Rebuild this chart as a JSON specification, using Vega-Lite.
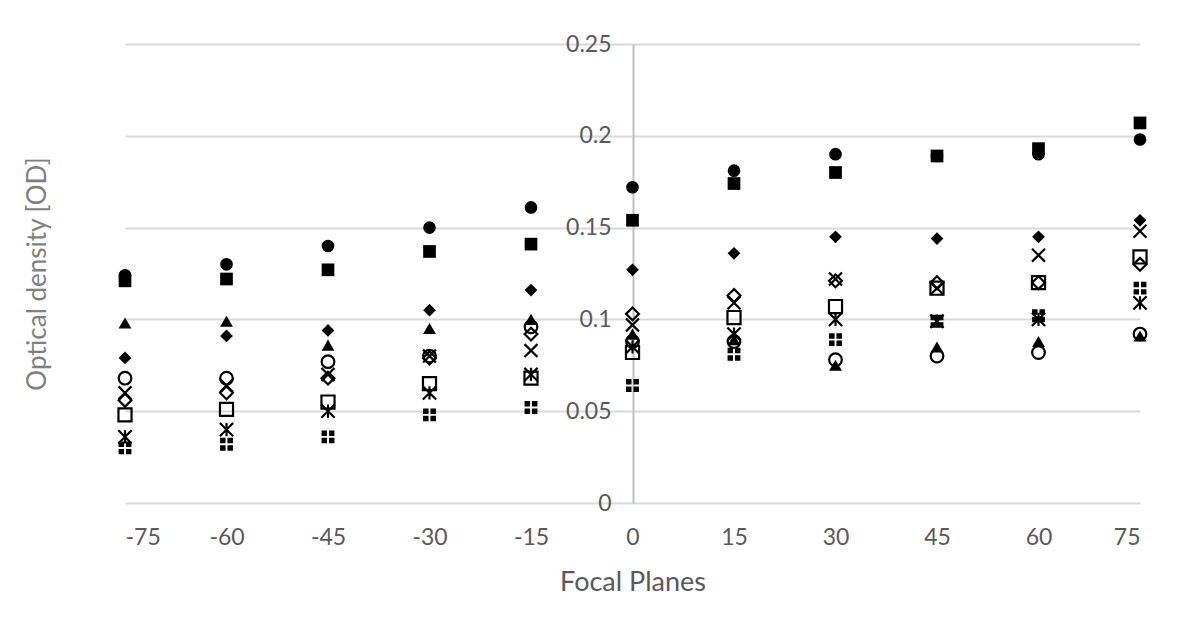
{
  "$schema": "https://vega.github.io/schema/vega-lite/v6.json",
  "width": 1015,
  "height": 459,
  "autosize": {"type": "none"},
  "padding": {"left": 125, "top": 44, "right": 38, "bottom": 117},
  "background": "white",
  "config": {"view": {"stroke": null}, "font": "Lato"},
  "data": {
    "values": [
      {"plane": -75, "series": "S1", "od": 0.124}, {"plane": -75, "series": "S2", "od": 0.121}, {"plane": -75, "series": "S3", "od": 0.079}, {"plane": -75, "series": "S4", "od": 0.098}, {"plane": -75, "series": "S5", "od": 0.068}, {"plane": -75, "series": "S6", "od": 0.056}, {"plane": -75, "series": "S7", "od": 0.060}, {"plane": -75, "series": "S8", "od": 0.048}, {"plane": -75, "series": "S9", "od": 0.036}, {"plane": -75, "series": "S10", "od": 0.030},
      {"plane": -60, "series": "S1", "od": 0.130}, {"plane": -60, "series": "S2", "od": 0.122}, {"plane": -60, "series": "S3", "od": 0.091}, {"plane": -60, "series": "S4", "od": 0.099}, {"plane": -60, "series": "S5", "od": 0.068}, {"plane": -60, "series": "S6", "od": 0.060}, {"plane": -60, "series": "S7", "od": 0.064}, {"plane": -60, "series": "S8", "od": 0.051}, {"plane": -60, "series": "S9", "od": 0.040}, {"plane": -60, "series": "S10", "od": 0.032},
      {"plane": -45, "series": "S1", "od": 0.140}, {"plane": -45, "series": "S2", "od": 0.127}, {"plane": -45, "series": "S3", "od": 0.094}, {"plane": -45, "series": "S4", "od": 0.086}, {"plane": -45, "series": "S5", "od": 0.077}, {"plane": -45, "series": "S6", "od": 0.068}, {"plane": -45, "series": "S7", "od": 0.070}, {"plane": -45, "series": "S8", "od": 0.055}, {"plane": -45, "series": "S9", "od": 0.050}, {"plane": -45, "series": "S10", "od": 0.036},
      {"plane": -30, "series": "S1", "od": 0.150}, {"plane": -30, "series": "S2", "od": 0.137}, {"plane": -30, "series": "S3", "od": 0.105}, {"plane": -30, "series": "S4", "od": 0.095}, {"plane": -30, "series": "S5", "od": 0.080}, {"plane": -30, "series": "S6", "od": 0.079}, {"plane": -30, "series": "S7", "od": 0.080}, {"plane": -30, "series": "S8", "od": 0.065}, {"plane": -30, "series": "S9", "od": 0.060}, {"plane": -30, "series": "S10", "od": 0.048},
      {"plane": -15, "series": "S1", "od": 0.161}, {"plane": -15, "series": "S2", "od": 0.141}, {"plane": -15, "series": "S3", "od": 0.116}, {"plane": -15, "series": "S4", "od": 0.100}, {"plane": -15, "series": "S5", "od": 0.096}, {"plane": -15, "series": "S6", "od": 0.092}, {"plane": -15, "series": "S7", "od": 0.083}, {"plane": -15, "series": "S8", "od": 0.068}, {"plane": -15, "series": "S9", "od": 0.070}, {"plane": -15, "series": "S10", "od": 0.052},
      {"plane": 0, "series": "S1", "od": 0.172}, {"plane": 0, "series": "S2", "od": 0.154}, {"plane": 0, "series": "S3", "od": 0.127}, {"plane": 0, "series": "S4", "od": 0.092}, {"plane": 0, "series": "S5", "od": 0.088}, {"plane": 0, "series": "S6", "od": 0.103}, {"plane": 0, "series": "S7", "od": 0.097}, {"plane": 0, "series": "S8", "od": 0.082}, {"plane": 0, "series": "S9", "od": 0.085}, {"plane": 0, "series": "S10", "od": 0.064},
      {"plane": 15, "series": "S1", "od": 0.181}, {"plane": 15, "series": "S2", "od": 0.174}, {"plane": 15, "series": "S3", "od": 0.136}, {"plane": 15, "series": "S4", "od": 0.089}, {"plane": 15, "series": "S5", "od": 0.088}, {"plane": 15, "series": "S6", "od": 0.113}, {"plane": 15, "series": "S7", "od": 0.109}, {"plane": 15, "series": "S8", "od": 0.101}, {"plane": 15, "series": "S9", "od": 0.092}, {"plane": 15, "series": "S10", "od": 0.081},
      {"plane": 30, "series": "S1", "od": 0.190}, {"plane": 30, "series": "S2", "od": 0.180}, {"plane": 30, "series": "S3", "od": 0.145}, {"plane": 30, "series": "S4", "od": 0.075}, {"plane": 30, "series": "S5", "od": 0.078}, {"plane": 30, "series": "S6", "od": 0.121}, {"plane": 30, "series": "S7", "od": 0.122}, {"plane": 30, "series": "S8", "od": 0.107}, {"plane": 30, "series": "S9", "od": 0.100}, {"plane": 30, "series": "S10", "od": 0.089},
      {"plane": 45, "series": "S1", "od": 0.189}, {"plane": 45, "series": "S2", "od": 0.189}, {"plane": 45, "series": "S3", "od": 0.144}, {"plane": 45, "series": "S4", "od": 0.085}, {"plane": 45, "series": "S5", "od": 0.080}, {"plane": 45, "series": "S6", "od": 0.120}, {"plane": 45, "series": "S7", "od": 0.117}, {"plane": 45, "series": "S8", "od": 0.117}, {"plane": 45, "series": "S9", "od": 0.099}, {"plane": 45, "series": "S10", "od": 0.099},
      {"plane": 60, "series": "S1", "od": 0.190}, {"plane": 60, "series": "S2", "od": 0.193}, {"plane": 60, "series": "S3", "od": 0.145}, {"plane": 60, "series": "S4", "od": 0.088}, {"plane": 60, "series": "S5", "od": 0.082}, {"plane": 60, "series": "S6", "od": 0.120}, {"plane": 60, "series": "S7", "od": 0.135}, {"plane": 60, "series": "S8", "od": 0.120}, {"plane": 60, "series": "S9", "od": 0.100}, {"plane": 60, "series": "S10", "od": 0.102},
      {"plane": 75, "series": "S1", "od": 0.198}, {"plane": 75, "series": "S2", "od": 0.207}, {"plane": 75, "series": "S3", "od": 0.154}, {"plane": 75, "series": "S4", "od": 0.091}, {"plane": 75, "series": "S5", "od": 0.092}, {"plane": 75, "series": "S6", "od": 0.130}, {"plane": 75, "series": "S7", "od": 0.148}, {"plane": 75, "series": "S8", "od": 0.134}, {"plane": 75, "series": "S9", "od": 0.109}, {"plane": 75, "series": "S10", "od": 0.117}
    ]
  },
  "encoding": {
    "x": {
      "field": "plane", "type": "quantitative",
      "scale": {"domain": [-75, 75], "nice": false, "zero": false},
      "axis": {
        "values": [-75, -60, -45, -30, -15, 0, 15, 30, 45, 60, 75],
        "labelExpr": "datum.value + ''",
        "title": "Focal Planes", "grid": false, "domain": false, "ticks": false,
        "labelPadding": 23, "labelFontSize": 23, "labelColor": "#595959", "labelFont": "Lato",
        "titleFontSize": 27, "titleColor": "#595959", "titleFont": "Lato", "titleFontWeight": "normal", "titlePadding": 20
      }
    },
    "y": {
      "field": "od", "type": "quantitative",
      "scale": {"domain": [0, 0.25], "nice": false},
      "axis": {
        "values": [0, 0.05, 0.1, 0.15, 0.2, 0.25], "format": ".2~f",
        "offset": -508, "grid": true, "gridColor": "#d9d9d9", "gridWidth": 2,
        "domainColor": "#bfbfbf", "domainWidth": 2, "ticks": false,
        "labelPadding": 22, "labelFontSize": 23, "labelColor": "#595959", "labelFont": "Lato",
        "title": "Optical density [OD]", "titleFontSize": 26, "titleColor": "#7f7f7f", "titleFont": "Lato", "titleFontWeight": "normal",
        "titleX": -596, "titleBaseline": "middle"
      }
    }
  },
  "layer": [
    {
      "transform": [{"filter": {"field": "series", "oneOf": ["S1", "S2", "S3", "S4", "S10"]}}],
      "mark": {"type": "point", "filled": true, "opacity": 1, "clip": false, "strokeWidth": 0},
      "encoding": {
        "shape": {
          "field": "series", "type": "nominal", "legend": null,
          "scale": {
            "domain": ["S1", "S2", "S3", "S4", "S10"],
            "range": ["circle", "square", "diamond", "triangle-up", "M-1,-1H-0.15V-0.15H-1Z M0.15,-1H1V-0.15H0.15Z M-1,0.15H-0.15V1H-1Z M0.15,0.15H1V1H0.15Z"]
          }
        },
        "color": {"value": "black"},
        "size": {
          "field": "series", "type": "nominal", "legend": null,
          "scale": {"domain": ["S1", "S2", "S3", "S4", "S10"], "range": [160, 165, 115, 170, 135]}
        }
      }
    },
    {
      "transform": [{"filter": {"field": "series", "oneOf": ["S5", "S6", "S7", "S8", "S9"]}}],
      "mark": {"type": "point", "filled": false, "opacity": 1, "clip": false, "strokeWidth": 2.2, "fill": "transparent"},
      "encoding": {
        "shape": {
          "field": "series", "type": "nominal", "legend": null,
          "scale": {
            "domain": ["S5", "S6", "S7", "S8", "S9"],
            "range": ["circle", "diamond", "M-1,-1L1,1M-1,1L1,-1", "square", "M-1,-1L1,1M-1,1L1,-1M0,-1L0,1"]
          }
        },
        "color": {"value": "black"},
        "size": {
          "field": "series", "type": "nominal", "legend": null,
          "scale": {"domain": ["S5", "S6", "S7", "S8", "S9"], "range": [160, 175, 150, 160, 145]}
        }
      }
    }
  ],
  "resolve": {"scale": {"shape": "independent", "size": "independent"}}
}
